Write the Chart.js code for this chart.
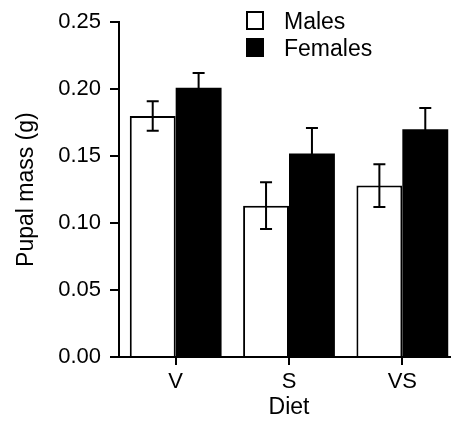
<!DOCTYPE html>
<html>
<head>
<meta charset="utf-8">
<script src="https://cdn.jsdelivr.net/npm/chart.js@4.4.0/dist/chart.umd.min.js"></script>
<style>
    html, body { margin: 0; padding: 0; background: #fff; overflow: hidden; }
    .wrap { position: relative; width: 451px; height: 423px; overflow: hidden; }
    #legend { position: absolute; left: 246px; top: 9px; font-family: "Liberation Sans", Arial, sans-serif; font-size: 23px; color: #000; }
    #legend div { height: 27px; line-height: 24px; white-space: nowrap; }
    #legend span.box { display: inline-block; width: 14px; height: 15px; border: 2px solid #000; vertical-align: -1px; margin-right: 20px; box-sizing: content-box; }
</style>
</head>
<body>
<div class="wrap">
    <canvas id="pupas" width="470" height="423"></canvas>
    <div id="legend"></div>
</div>
<script>
const diets = ["V", "S", "VS"];
const seriesNames = ["Males", "Females"];
const males = [0.180, 0.113, 0.128];
const malesErr = [0.011, 0.0175, 0.016];
const females = [0.201, 0.152, 0.170];
const femalesErr = [0.011, 0.019, 0.016];
const yTicks = [0, 0.05, 0.10, 0.15, 0.20, 0.25];

const fuente = "'Liberation Sans', Arial, sans-serif";

// barras de error dibujadas con las escalas del grafico
const errorBars = {
    id: "errorBars",
    afterDatasetsDraw(chart) {
        const ctx = chart.ctx;
        const yScale = chart.scales.y;
        ctx.save();
        ctx.strokeStyle = "#000";
        ctx.lineWidth = 2;
        chart.data.datasets.forEach(function (ds, i) {
            const meta = chart.getDatasetMeta(i);
            meta.data.forEach(function (bar, j) {
                const v = ds.data[j];
                const e = ds.errores[j];
                const x = bar.x;
                const yTop = yScale.getPixelForValue(v + e);
                const yBot = yScale.getPixelForValue(v - e);
                ctx.beginPath();
                ctx.moveTo(x, yTop);
                ctx.lineTo(x, yBot);
                ctx.moveTo(x - 6, yTop);
                ctx.lineTo(x + 6, yTop);
                ctx.moveTo(x - 6, yBot);
                ctx.lineTo(x + 6, yBot);
                ctx.stroke();
            });
        });
        ctx.restore();
    }
};

const ctx = document.getElementById("pupas");

const myChart = new Chart(ctx, {
    type: "bar",
    data: {
        labels: diets,
        datasets: [
            {
                label: seriesNames[0],
                data: males,
                errores: malesErr,
                backgroundColor: "#fff",
                borderColor: "#000",
                borderWidth: 2,
                borderSkipped: "bottom",
                categoryPercentage: 0.81,
                barPercentage: 1.0,
            },
            {
                label: seriesNames[1],
                data: females,
                errores: femalesErr,
                backgroundColor: "#000",
                borderColor: "#000",
                borderWidth: 0,
                categoryPercentage: 0.81,
                barPercentage: 1.0,
            },
        ],
    },
    options: {
        responsive: false,
        animation: false,
        devicePixelRatio: 1,
        layout: { padding: { top: 19, right: 11, left: 0, bottom: 0 } },
        plugins: {
            legend: { display: false },
            tooltip: { enabled: false },
        },
        scales: {
            x: {
                offset: true,
                grid: { display: true, drawOnChartArea: false, offset: false, color: "#000", lineWidth: 2, tickLength: 8 },
                border: { color: "#000", width: 2 },
                ticks: { color: "#000", font: { family: fuente, size: 22 }, padding: 4 },
                title: { display: true, text: "Diet", color: "#000", font: { family: fuente, size: 23 }, padding: { top: 0, bottom: 2 } },
                afterFit(scale) { scale.height = 66; },
            },
            y: {
                min: 0,
                max: 0.25,
                afterBuildTicks(scale) { scale.ticks = yTicks.map(v => ({ value: v })); },
                grid: { display: true, drawOnChartArea: false, color: "#000", lineWidth: 2, tickLength: 9 },
                border: { color: "#000", width: 2 },
                ticks: { color: "#000", font: { family: fuente, size: 22 }, padding: 9, callback: v => v.toFixed(2) },
                title: { display: true, text: "Pupal mass (g)", color: "#000", font: { family: fuente, size: 23 }, padding: { top: 13, bottom: 0 } },
                afterFit(scale) { scale.width = 119; },
            },
        },
    },
    plugins: [errorBars],
});

// leyenda en html, a partir de los datasets
const leyenda = document.getElementById("legend");
myChart.data.datasets.forEach(function (ds) {
    const fila = document.createElement("div");
    const caja = document.createElement("span");
    caja.className = "box";
    caja.style.background = ds.backgroundColor;
    fila.appendChild(caja);
    fila.appendChild(document.createTextNode(ds.label));
    leyenda.appendChild(fila);
});
</script>
</body>
</html>
